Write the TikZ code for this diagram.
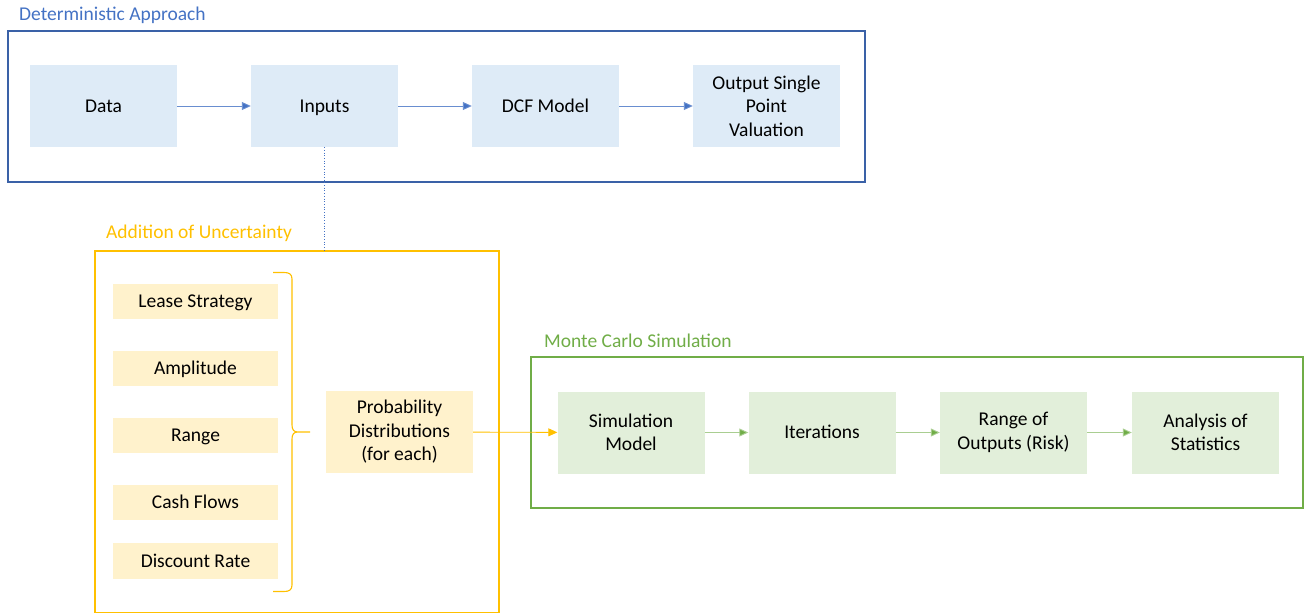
\documentclass[tikz,border=0pt]{standalone}
\usepackage{fontspec}
\setmainfont{Carlito}
\usetikzlibrary{arrows.meta}
\definecolor{bline}{HTML}{4472C4}
\definecolor{bfill}{HTML}{DEEBF7}
\definecolor{yline}{HTML}{FFC000}
\definecolor{yfill}{HTML}{FFF2CC}
\definecolor{gline}{HTML}{70AD47}
\definecolor{gfill}{HTML}{E2EFDA}
\tikzset{
  txt/.style={font=\fontsize{19.5}{23.5}\selectfont, align=center, inner sep=0pt},
  one/.style={text height=12.5pt, text depth=0pt},
  bbox/.style={txt, fill=bfill, minimum width=147pt, minimum height=82pt},
  ybox/.style={txt, one, fill=yfill, minimum width=165pt, minimum height=35pt},
  pbox/.style={txt, fill=yfill, minimum width=147pt, minimum height=82pt},
  gbox/.style={txt, fill=gfill, minimum width=147pt, minimum height=82pt},
  title/.style={font=\fontsize{19.5}{23.5}\selectfont, inner sep=0pt, anchor=west},
  frame/.style={line width=1.4pt},
  tip/.style={line width=0.9pt},
}
\begin{document}
\begin{tikzpicture}[x=1pt,y=-1pt]
\useasboundingbox (0,0) rectangle (1304,613);
% Deterministic approach
\node[title, text=bline] (t1) at (19,15) {Deterministic Approach};
\draw[frame, draw=bline!85!black] (8,31) rectangle (865,182);
\node[bbox, one] (data) at (103.5,106) {Data};
\node[bbox, one] (inputs) at (324.5,106) {Inputs};
\node[bbox, one] (dcf) at (545.5,106) {DCF Model};
\node[bbox] (out) at (766.5,106) {Output Single\\Point\\Valuation};
\draw[tip, draw=bline!80, -{Triangle[length=9pt,width=8pt,fill=bline]}] (data) -- (inputs);
\draw[tip, draw=bline!80, -{Triangle[length=9pt,width=8pt,fill=bline]}] (inputs) -- (dcf);
\draw[tip, draw=bline!80, -{Triangle[length=9pt,width=8pt,fill=bline]}] (dcf) -- (out);
% Addition of uncertainty
\node[title, text=yline] (t2) at (106,233) {Addition of Uncertainty};
\draw[frame, draw=yline] (95,251) rectangle (499,613);
\coordinate (ytop) at (324.5,251);
\draw[bline, line width=0.7pt, dotted] (inputs.south) -- (ytop);
\node[ybox] (lease) at (195.5,301.5) {Lease Strategy};
\node[ybox] (amp) at (195.5,368.5) {Amplitude};
\node[ybox] (range) at (195.5,435.5) {Range};
\node[ybox] (cash) at (195.5,502.5) {Cash Flows};
\node[ybox, minimum height=36pt] (disc) at (195.5,561) {Discount Rate};
\draw[yline, line width=1.1pt]
  (273,272.5) -- (284,272.5) .. controls (289,272.5) and (292,274) .. (292,279)
  -- (292,425) .. controls (292,430) and (294,432) .. (298,432) -- (310,432)
  (298,432) .. controls (294,432) and (292,434) .. (292,439)
  -- (292,585) .. controls (292,590) and (289,591.5) .. (284,591.5) -- (273,591.5);
\node[pbox] (prob) at (399.5,432) {Probability\\Distributions\\(for each)};
% Monte Carlo
\node[title, text=gline] (t3) at (544,341) {Monte Carlo Simulation};
\draw[frame, draw=gline] (531,357) rectangle (1303,508);
\node[gbox] (sim) at (631,432.5) {Simulation\\Model};
\node[gbox, one] (iter) at (822,432.5) {Iterations};
\node[gbox] (rout) at (1013.5,432.5) {Range of\\Outputs (Risk)};
\node[gbox] (ana) at (1205.5,432.5) {Analysis of\\Statistics};
\draw[tip, draw=yline, -{Triangle[length=9pt,width=8pt,fill=yline]}] (prob) -- (sim);
\draw[tip, draw=gline!60, -{Triangle[length=9pt,width=8pt,fill=gline]}] (sim) -- (iter);
\draw[tip, draw=gline!60, -{Triangle[length=9pt,width=8pt,fill=gline]}] (iter) -- (rout);
\draw[tip, draw=gline!60, -{Triangle[length=9pt,width=8pt,fill=gline]}] (rout) -- (ana);
\end{tikzpicture}
\end{document}
